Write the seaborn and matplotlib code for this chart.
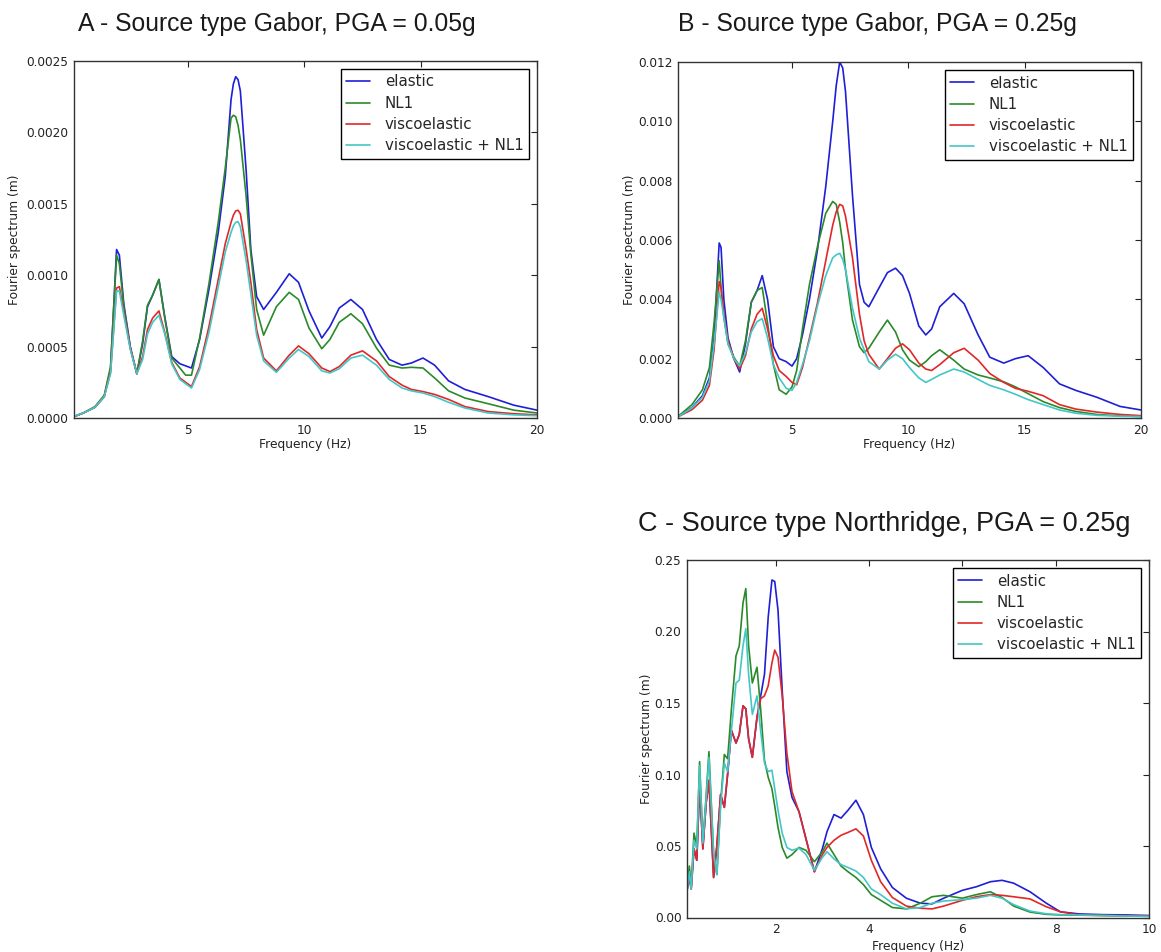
import numpy as np
import pandas as pd
import matplotlib
matplotlib.use("Agg")
import matplotlib.pyplot as plt
import seaborn as sns

# ---------------- data ----------------
series_names = ["elastic", "NL1", "viscoelastic", "viscoelastic + NL1"]
titles = ["A - Source type Gabor, PGA = 0.05g",
          "B - Source type Gabor, PGA = 0.25g",
          "C - Source type Northridge, PGA = 0.25g"]

# Panel A (values in units of 1e-4 m)
freq_a = [0.1, 0.5, 1.0, 1.4, 1.67, 1.93, 2.05, 2.24, 2.52, 2.8, 3.05, 3.26, 3.48, 3.75, 4.0,
          4.3, 4.65, 4.9, 5.15, 5.5, 5.9, 6.3, 6.6, 6.85, 6.95, 7.05, 7.15, 7.25, 7.5, 7.7,
          7.95, 8.25, 8.8, 9.35, 9.75, 10.2, 10.75, 11.1, 11.5, 12.0, 12.5, 13.1, 13.65, 14.2,
          14.6, 15.1, 15.6, 16.2, 16.9, 17.9, 19.0, 20.0]
a_elastic = [0.1, 0.35, 0.75, 1.5, 3.4, 11.8, 11.4, 8.0, 5.0, 3.1, 5.2, 7.8, 8.6, 9.7, 7.1,
             4.3, 3.8, 3.65, 3.5, 5.5, 9.0, 13.0, 16.9, 22.3, 23.4, 23.9, 23.7, 22.9, 17.3, 11.8,
             8.5, 7.6, 8.8, 10.1, 9.5, 7.5, 5.6, 6.4, 7.7, 8.3, 7.6, 5.5, 4.1, 3.7,
             3.85, 4.2, 3.7, 2.6, 2.0, 1.5, 0.9, 0.55]
a_nl1 = [0.1, 0.35, 0.8, 1.6, 3.6, 11.4, 10.8, 7.8, 4.9, 3.1, 5.4, 7.9, 8.6, 9.7, 7.0,
         4.2, 3.5, 3.0, 3.0, 5.6, 9.4, 13.7, 17.5, 21.0, 21.2, 21.1, 20.5, 19.5, 15.5, 11.5,
         7.6, 5.8, 7.8, 8.8, 8.3, 6.3, 4.85, 5.5, 6.7, 7.3, 6.6, 4.9, 3.7, 3.5,
         3.55, 3.5, 2.8, 1.9, 1.4, 1.0, 0.55, 0.35]
a_visco = [0.1, 0.35, 0.75, 1.5, 3.2, 9.1, 9.2, 7.4, 4.9, 3.1, 4.3, 6.2, 7.0, 7.5, 6.0,
           3.9, 2.8, 2.5, 2.2, 3.6, 6.4, 9.7, 12.2, 13.7, 14.2, 14.5, 14.55, 14.3, 11.8, 9.5,
           6.2, 4.2, 3.3, 4.4, 5.05, 4.5, 3.5, 3.25, 3.6, 4.4, 4.7, 4.0, 2.9, 2.3,
           2.0, 1.85, 1.65, 1.3, 0.8, 0.45, 0.3, 0.22]
a_visco_nl1 = [0.1, 0.35, 0.75, 1.5, 3.1, 8.9, 8.9, 7.2, 4.8, 3.1, 4.1, 5.9, 6.7, 7.2, 5.9,
               3.8, 2.7, 2.4, 2.1, 3.4, 6.0, 9.2, 11.6, 13.0, 13.45, 13.7, 13.75, 13.4, 11.0, 8.7,
               5.8, 4.0, 3.2, 4.2, 4.8, 4.3, 3.3, 3.15, 3.45, 4.2, 4.4, 3.7, 2.7, 2.1,
               1.9, 1.75, 1.5, 1.1, 0.7, 0.35, 0.22, 0.16]

# Panel B (values in units of 1e-3 m)
freq_b = [0.1, 0.7, 1.15, 1.45, 1.65, 1.87, 1.95, 2.07, 2.25, 2.5, 2.75, 3.0, 3.25, 3.5, 3.72,
          3.95, 4.2, 4.45, 4.75, 5.0, 5.2, 5.45, 5.75, 6.1, 6.45, 6.75, 6.9, 7.05, 7.18, 7.3,
          7.6, 7.9, 8.1, 8.3, 8.75, 9.1, 9.45, 9.75, 10.05, 10.45, 10.75, 11.0, 11.35, 11.95,
          12.4, 13.0, 13.5, 14.1, 14.6, 15.15, 15.8, 16.5, 17.2, 18.1, 19.1, 20.0]
b_elastic = [0.05, 0.35, 0.75, 1.35, 2.7, 5.9, 5.75, 4.0, 2.7, 2.0, 1.55, 2.5, 3.9, 4.3, 4.8,
             4.0, 2.4, 2.0, 1.9, 1.75, 2.0, 2.8, 4.0, 5.7, 7.8, 10.0, 11.2, 12.0, 11.8, 11.0,
             7.5, 4.5, 3.9, 3.75, 4.4, 4.9, 5.05, 4.8, 4.2, 3.1, 2.8, 3.0, 3.75, 4.2,
             3.85, 2.8, 2.05, 1.85, 2.0, 2.1, 1.7, 1.15, 0.93, 0.7, 0.39, 0.27]
b_nl1 = [0.05, 0.45, 0.95, 1.7, 3.2, 5.3, 4.4, 3.4, 2.5, 2.05, 1.75, 2.6, 3.9, 4.3, 4.4,
         3.2, 1.8, 0.95, 0.8, 1.05, 1.6, 3.0, 4.5, 5.8, 6.9, 7.3, 7.2, 6.6, 5.9, 5.0,
         3.3, 2.4, 2.2, 2.35, 2.9, 3.3, 2.9, 2.3, 1.95, 1.73, 1.9, 2.1, 2.3, 1.95,
         1.65, 1.45, 1.35, 1.22, 1.05, 0.82, 0.55, 0.35, 0.22, 0.12, 0.07, 0.05]
b_visco = [0.04, 0.28, 0.6, 1.1, 2.3, 4.6, 4.4, 3.5, 2.6, 2.0, 1.65, 2.1, 3.0, 3.5, 3.7,
           3.0, 2.1, 1.6, 1.4, 1.2, 1.12, 1.7, 2.7, 3.9, 5.3, 6.5, 6.95, 7.2, 7.15, 6.8,
           5.4, 3.5, 2.6, 2.15, 1.65, 2.0, 2.35, 2.5, 2.3, 1.85, 1.65, 1.6, 1.8, 2.2,
           2.35, 1.95, 1.5, 1.2, 1.0, 0.9, 0.75, 0.45, 0.3, 0.2, 0.12, 0.08]
b_visco_nl1 = [0.04, 0.34, 0.7, 1.25, 2.5, 4.25, 4.0, 3.4, 2.5, 2.0, 1.75, 2.2, 2.9, 3.25, 3.35,
               2.7, 1.8, 1.35, 1.0, 0.93, 1.2, 1.8, 2.6, 3.8, 4.8, 5.4, 5.5, 5.55, 5.35, 5.0,
               3.7, 2.7, 2.3, 1.9, 1.65, 1.95, 2.15, 2.0, 1.7, 1.35, 1.2, 1.3, 1.45, 1.65,
               1.55, 1.3, 1.1, 0.95, 0.8, 0.62, 0.45, 0.27, 0.16, 0.09, 0.06, 0.05]

# Panel C (values in units of 1e-2 m)
freq_c = [0.1, 0.15, 0.19, 0.25, 0.31, 0.37, 0.44, 0.51, 0.57, 0.67, 0.74, 0.82, 0.9, 0.97,
          1.05, 1.15, 1.22, 1.3, 1.36, 1.42, 1.5, 1.6, 1.68, 1.76, 1.84, 1.92, 1.98, 2.05,
          2.14, 2.24, 2.35, 2.5, 2.65, 2.83, 3.0, 3.1, 3.25, 3.4, 3.55, 3.72, 3.88, 4.05,
          4.25, 4.5, 4.8, 5.1, 5.35, 5.6, 6.0, 6.3, 6.6, 6.85, 7.1, 7.45, 7.8, 8.1, 8.5,
          9.0, 9.5, 10.0]
c_elastic = [1.9, 2.8, 2.0, 4.8, 4.0, 9.3, 4.8, 8.0, 9.6, 2.8, 5.0, 8.6, 7.7, 10.0,
             13.1, 12.2, 12.8, 14.8, 14.6, 12.5, 11.2, 14.0, 15.5, 17.0, 21.0, 23.6, 23.5, 21.5,
             15.9, 10.2, 8.4, 7.4, 5.5, 3.2, 4.8, 6.0, 7.2, 6.95, 7.5, 8.2, 7.2, 4.9,
             3.4, 2.1, 1.35, 1.0, 0.95, 1.35, 1.9, 2.15, 2.5, 2.6, 2.4, 1.8, 1.0, 0.4, 0.25,
             0.2, 0.18, 0.14]
c_nl1 = [1.9, 3.6, 2.2, 5.9, 5.0, 10.9, 5.2, 8.5, 11.6, 4.5, 3.0, 8.0, 11.4, 11.1,
         14.5, 18.3, 19.0, 22.0, 23.0, 19.0, 16.4, 17.5, 14.5, 11.0, 9.8, 9.0, 7.8, 6.3,
         4.9, 4.15, 4.4, 4.9, 4.7, 3.9, 4.6, 5.2, 4.4, 3.6, 3.2, 2.8, 2.3, 1.6,
         1.2, 0.7, 0.6, 1.0, 1.45, 1.55, 1.35, 1.6, 1.8, 1.4, 0.8, 0.38, 0.22, 0.18, 0.16,
         0.15, 0.12, 0.1]
c_visco = [1.9, 2.8, 2.0, 4.8, 4.0, 9.3, 4.8, 8.0, 9.6, 2.8, 5.0, 8.6, 7.7, 10.0,
           13.1, 12.2, 12.8, 14.8, 14.6, 12.5, 11.2, 14.0, 15.3, 15.5, 16.2, 17.8, 18.7, 18.2,
           15.5, 11.5, 8.8, 7.4, 5.5, 3.2, 4.4, 4.9, 5.4, 5.75, 5.95, 6.2, 5.7, 4.0,
           2.5, 1.4, 0.8, 0.65, 0.6, 0.8, 1.2, 1.45, 1.6, 1.55, 1.45, 1.3, 0.75, 0.4, 0.18,
           0.14, 0.12, 0.1]
c_visco_nl1 = [1.8, 3.2, 2.0, 5.4, 4.8, 10.6, 5.2, 8.3, 11.2, 4.5, 3.0, 7.8, 10.8, 10.2,
               13.0, 16.4, 16.6, 19.0, 20.2, 17.0, 14.2, 15.5, 13.0, 10.8, 10.2, 10.3, 9.0, 7.5,
               5.9, 4.9, 4.7, 4.85, 4.4, 3.3, 4.2, 4.6, 4.1, 3.7, 3.5, 3.25, 2.8, 2.0,
               1.6, 1.0, 0.6, 0.7, 1.0, 1.15, 1.25, 1.35, 1.55, 1.35, 0.9, 0.45, 0.26, 0.2, 0.17,
               0.14, 0.1, 0.08]

panels = [
    (freq_a, [a_elastic, a_nl1, a_visco, a_visco_nl1], 1e-4),
    (freq_b, [b_elastic, b_nl1, b_visco, b_visco_nl1], 1e-3),
    (freq_c, [c_elastic, c_nl1, c_visco, c_visco_nl1], 1e-2),
]

# ---------------- style ----------------
sns.set_style("white")
plt.rcParams["font.family"] = ["DejaVu Sans"]
colors = ["#1f1fd6", "#2a8a2a", "#e02828", "#45c6c6"]
palette = dict(zip(series_names, colors))

W, H = 1161, 952
fig = plt.figure(figsize=(W / 100, H / 100), dpi=100)

def px_axes(left, top, right, bottom):
    return fig.add_axes([left / W, 1 - bottom / H, (right - left) / W, (bottom - top) / H])

ax_a = px_axes(74, 61, 537, 418)
ax_b = px_axes(678, 62, 1141, 418)
ax_c = px_axes(687, 560, 1149, 917.5)
axes = [ax_a, ax_b, ax_c]

xlims = [(0.1, 20), (0.1, 20), (0.1, 10)]
xticks = [[5, 10, 15, 20], [5, 10, 15, 20], [2, 4, 6, 8, 10]]
ylims = [(0, 0.0025), (0, 0.012), (0, 0.25)]
yticks = [np.arange(0, 0.00251, 0.0005), np.arange(0, 0.01201, 0.002), np.arange(0, 0.2501, 0.05)]
yfmt = ["{:.4f}", "{:.3f}", "{:.2f}"]
ylab_x = [-0.115, -0.091, -0.073]
xlab_y = [-0.055, -0.055, -0.063]

for ax, (freq, vals, scale), xl, xt, yl, yt, fmt, lx, ly in zip(
        axes, panels, xlims, xticks, ylims, yticks, yfmt, ylab_x, xlab_y):
    df = pd.DataFrame({
        "freq": np.tile(np.asarray(freq, float), len(series_names)),
        "value": np.concatenate([np.asarray(v, float) * scale for v in vals]),
        "case": np.repeat(series_names, len(freq)),
    })
    sns.lineplot(data=df, x="freq", y="value", hue="case", hue_order=series_names,
                 palette=palette, estimator=None, sort=False, linewidth=1.2, ax=ax)
    ax.set_xlim(*xl)
    ax.set_ylim(*yl)
    ax.set_xticks(xt)
    ax.set_xticklabels([str(t) for t in xt])
    ax.set_yticks(yt)
    ax.set_yticklabels([fmt.format(t) for t in yt])
    ax.tick_params(direction="in", length=4, width=0.8, top=True, right=True,
                   labelsize=8.7, colors="#222222", pad=4)
    for s in ax.spines.values():
        s.set_color("#333333")
        s.set_linewidth(1.0)
    ax.set_xlabel("Frequency (Hz)", fontsize=8.8, color="#222222")
    ax.set_ylabel("Fourier spectrum (m)", fontsize=8.8, color="#222222")
    ax.xaxis.set_label_coords(0.5, ly)
    ax.yaxis.set_label_coords(lx, 0.5)
    handles, labels = ax.get_legend_handles_labels()
    leg = ax.legend(handles, labels, loc="upper right", fontsize=10.8, frameon=True,
                    fancybox=False, edgecolor="black", framealpha=1.0,
                    handlelength=1.6, handletextpad=1.0, labelspacing=0.42,
                    borderpad=0.35, borderaxespad=0.55)
    leg.get_frame().set_linewidth(1.0)

title_pos = [(78, 31.5, 17.8), (678, 31.0, 17.8), (638, 531.0, 19.5)]
for t, (tx, ty, fs) in zip(titles, title_pos):
    fig.text(tx / W, 1 - ty / H, t, fontsize=fs, family=["Liberation Sans", "DejaVu Sans"],
             color="#1a1a1a", ha="left", va="baseline")

fig.savefig("out.png", dpi=100)
